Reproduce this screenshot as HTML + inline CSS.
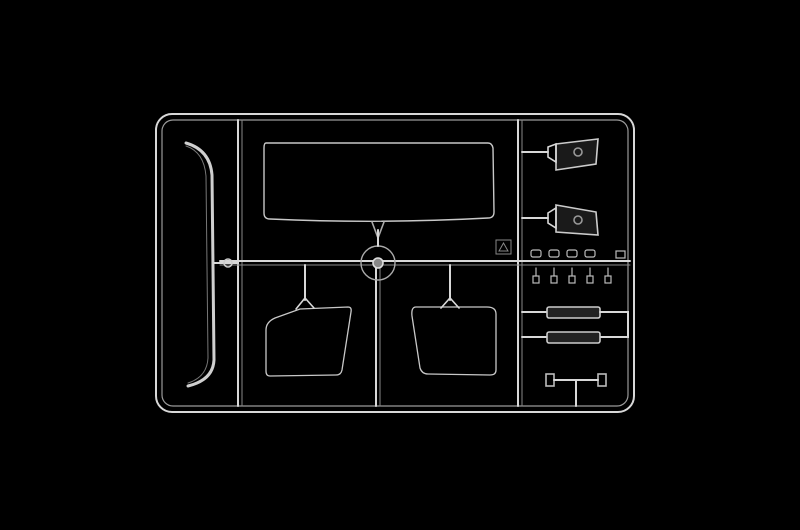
<!DOCTYPE html>
<html><head><meta charset="utf-8"><style>
html,body{margin:0;padding:0;background:#000;}
svg{display:block;}
</style></head><body>
<svg width="800" height="530" viewBox="0 0 800 530" xmlns="http://www.w3.org/2000/svg">
<rect width="800" height="530" fill="#000"/>
<g fill="none" stroke="#d8d8d8" stroke-width="1.6" stroke-linecap="round">
  <!-- outer frame double -->
  <rect x="156" y="114" width="478" height="298" rx="16" stroke-width="2"/>
  <rect x="162" y="120" width="466" height="286" rx="11" stroke="#9a9a9a" stroke-width="1.2"/>
  <!-- vertical runners -->
  <line x1="238" y1="120" x2="238" y2="406" stroke-width="2"/>
  <line x1="242" y1="120" x2="242" y2="406" stroke="#888" stroke-width="1"/>
  <line x1="518" y1="120" x2="518" y2="406" stroke-width="2"/>
  <line x1="522" y1="120" x2="522" y2="406" stroke="#888" stroke-width="1"/>
  <line x1="376" y1="263" x2="376" y2="406" stroke-width="2"/>
  <line x1="380" y1="263" x2="380" y2="406" stroke="#888" stroke-width="1"/>
  <!-- horizontal runner -->
  <line x1="220" y1="261" x2="630" y2="261" stroke-width="2"/>
  <line x1="220" y1="265" x2="630" y2="265" stroke="#888" stroke-width="1"/>
  <!-- hub -->
  <circle cx="378" cy="263" r="17" stroke="#aaa" stroke-width="1.4"/>
  <circle cx="378" cy="263" r="5" fill="#888" stroke="#ddd"/>
  <!-- windshield -->
  <path d="M266 143 L488 143 Q492 143 493 148 L494 212 Q494 218 488 218 Q380 224 270 219 Q264 219 264 213 L264 148 Q264 143 266 143 Z" stroke="#c8c8c8" stroke-width="1.4"/>
  <path d="M372 222 L378 238 L384 222" stroke="#aaa"/>
  <line x1="378" y1="230" x2="378" y2="246" stroke-width="2"/>
  <!-- left curved strip -->
  <path d="M186 143 Q210 150 212 175 L214 360 Q213 380 188 386" stroke-width="3" stroke="#cfcfcf"/>
  <path d="M186 146 Q204 152 206 176 L208 358 Q207 377 188 383" stroke="#777" stroke-width="1"/>
  <line x1="214" y1="263" x2="238" y2="263" stroke-width="2"/>
  <circle cx="228" cy="263" r="4" stroke="#ccc"/>
  <!-- left mirror -->
  <path d="M300 309 L348 307 Q352 307 351 312 L342 370 Q341 375 336 375 L270 376 Q266 376 266 371 L266 330 Q266 322 275 318 Z" stroke="#c8c8c8" stroke-width="1.3"/>
  <line x1="305" y1="265" x2="305" y2="300" stroke-width="2"/>
  <path d="M296 309 L305 298 L314 308"/>
  <!-- right mirror -->
  <path d="M416 307 L487 307 Q496 307 496 314 L496 370 Q496 375 490 375 L428 374 Q422 374 420 368 L412 316 Q411 307 416 307 Z" stroke="#c8c8c8" stroke-width="1.3"/>
  <line x1="450" y1="265" x2="450" y2="300" stroke-width="2"/>
  <path d="M441 308 L450 298 L459 308"/>
  <!-- right side lamps -->
  <line x1="522" y1="152" x2="548" y2="152" stroke-width="2"/>
  <path d="M556 144 L598 139 L596 164 L556 170 Z" stroke="#ccc" fill="#1a1a1a"/>
  <circle cx="578" cy="152" r="4" stroke="#999"/>
  <path d="M548 147 L556 144 L556 162 L548 157 Z"/>
  <line x1="522" y1="218" x2="548" y2="218" stroke-width="2"/>
  <path d="M556 205 L596 212 L598 235 L556 232 Z" stroke="#ccc" fill="#1a1a1a"/>
  <circle cx="578" cy="220" r="4" stroke="#999"/>
  <path d="M548 213 L556 208 L556 228 L548 223 Z"/>
  <!-- small clips row -->
  <g stroke="#bbb" stroke-width="1.2">
    <rect x="531" y="250" width="10" height="7" rx="2"/><rect x="549" y="250" width="10" height="7" rx="2"/>
    <rect x="567" y="250" width="10" height="7" rx="2"/><rect x="585" y="250" width="10" height="7" rx="2"/>
    <rect x="616" y="251" width="9" height="7"/>
    <path d="M536 268 l0 8 M554 268 l0 8 M572 268 l0 8 M590 268 l0 8 M608 268 l0 8"/>
    <rect x="533" y="276" width="6" height="7"/><rect x="551" y="276" width="6" height="7"/>
    <rect x="569" y="276" width="6" height="7"/><rect x="587" y="276" width="6" height="7"/><rect x="605" y="276" width="6" height="7"/>
  </g>
  <!-- bars -->
  <line x1="522" y1="312" x2="547" y2="312" stroke-width="2"/>
  <rect x="547" y="307" width="53" height="11" rx="2" stroke="#ccc" fill="#222"/>
  <path d="M600 312 L628 312 L628 337 L600 337" stroke-width="2"/>
  <line x1="522" y1="337" x2="547" y2="337" stroke-width="2"/>
  <rect x="547" y="332" width="53" height="11" rx="2" stroke="#ccc" fill="#222"/>
  <!-- bottom bracket -->
  <rect x="546" y="374" width="8" height="12" stroke="#bbb"/>
  <rect x="598" y="374" width="8" height="12" stroke="#bbb"/>
  <line x1="554" y1="380" x2="598" y2="380" stroke-width="2"/>
  <line x1="576" y1="380" x2="576" y2="406" stroke-width="2"/>
  <!-- PE recycle mark -->
  <rect x="496" y="240" width="15" height="14" stroke="#888" stroke-width="1"/>
  <path d="M499 251 L503.5 243 L508 251 Z" stroke="#888" stroke-width="1"/>
</g>
</svg>
</body></html>
